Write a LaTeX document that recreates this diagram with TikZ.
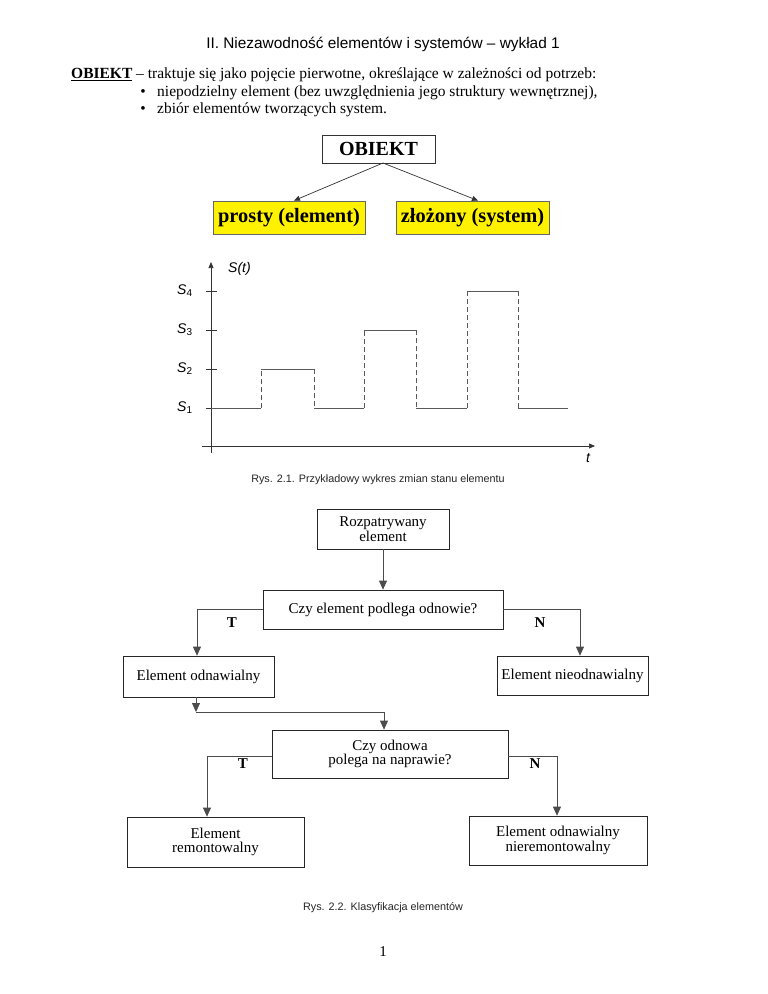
\documentclass[tikz,border=0pt]{standalone}
\usepackage{fontspec}
\setmainfont{Liberation Serif}
\setsansfont{Liberation Sans}
\usetikzlibrary{arrows.meta,calc}
\begin{document}
\begin{tikzpicture}[x=1pt,y=-1pt,
  body/.style={font=\fontsize{15.5}{17}\selectfont, inner sep=0pt},
  bigbox/.style={draw=black!80, line width=0.8pt, font=\bfseries\fontsize{20}{22}\selectfont, inner sep=0pt},
  ybox/.style={draw=black!60, line width=0.8pt, fill=yellow, font=\bfseries\fontsize{20.4}{22}\selectfont, inner sep=0pt},
  fbox/.style={draw=black!85, line width=0.7pt, align=center, font=\fontsize{15}{15}\selectfont, inner sep=0pt},
  flab/.style={font=\bfseries\fontsize{15}{15}\selectfont, inner sep=0pt},
  conn/.style={draw=black!70, line width=0.8pt},
  farrow/.style={conn, -{Triangle[length=9pt,width=8pt]}},
  sarrow/.style={draw=black!80, line width=0.7pt, -{Triangle[length=6pt,width=5pt]}},
  glab/.style={font=\sffamily\itshape\fontsize{14}{14}\selectfont, inner sep=0pt},
  sig/.style={draw=black!65, line width=0.9pt},
  sigd/.style={draw=black!65, line width=0.9pt, dash pattern=on 5pt off 3pt},
  captxt/.style={font=\sffamily\fontsize{10.8}{12}\selectfont, text=black!85, inner sep=0pt}
]
\useasboundingbox (0,0) rectangle (768,994);
\fill[white] (0,0) rectangle (768,994);

% header
\node[font=\sffamily\fontsize{15.4}{17}\selectfont, inner sep=0pt] (hdr) at (383,44) {II. Niezawodność elementów i systemów – wykład 1};

% definition text
\node[body, anchor=west] (def) at (71,75) {\underline{\textbf{OBIEKT}} – traktuje się jako pojęcie pierwotne, określające w zależności od potrzeb:};
\node[body] (bul1) at (143,93) {\textbullet};
\node[body, anchor=west] (it1) at (157,93) {niepodzielny element (bez uwzględnienia jego struktury wewnętrznej),};
\node[body] (bul2) at (143,110) {\textbullet};
\node[body, anchor=west] (it2) at (157,110) {zbiór elementów tworzących system.};

% OBIEKT tree
\node[bigbox, minimum width=113pt, minimum height=28pt] (obiekt) at (378.5,149) {OBIEKT};
\node[ybox, minimum width=152pt, minimum height=33pt] (prosty) at (289,217.5) {prosty (element)};
\node[ybox, minimum width=153pt, minimum height=33pt] (zlozony) at (472.5,217.5) {złożony (system)};
\coordinate (ob) at (383,163);
\draw[sarrow] (ob) -- ([xshift=5pt]prosty.north);
\draw[sarrow] (ob) -- ([xshift=5.5pt]zlozony.north);

% graph
\coordinate (yb) at (211,453);
\coordinate (yt) at (211,262);
\coordinate (xl) at (202,446);
\coordinate (xr) at (595,446);
\draw[sarrow] (yb) -- (yt);
\draw[sarrow] (xl) -- (xr);
\foreach \yy/\nm in {291/4,330/3,369/2,408/1}{
  \draw[draw=black!80, line width=0.7pt] (206,\yy) -- (217,\yy);
  \node[glab, anchor=west] (s\nm) at (177,\yy) {S\textsubscript{\upshape\fontsize{10}{10}\selectfont\nm}};
}
\node[glab, anchor=west] (st) at (228,269) {S(t)};
\node[glab] (tl) at (588,458) {t};
\draw[sig] (211,408) -- (261,408);
\draw[sigd] (261,408) -- (261,369);
\draw[sig] (261,369) -- (314,369);
\draw[sigd] (314,369) -- (314,408);
\draw[sig] (314,408) -- (364,408);
\draw[sigd] (364,408) -- (364,330);
\draw[sig] (364,330) -- (416,330);
\draw[sigd] (416,330) -- (416,408);
\draw[sig] (416,408) -- (467,408);
\draw[sigd] (467,408) -- (467,291);
\draw[sig] (467,291) -- (518,291);
\draw[sigd] (518,291) -- (518,408);
\draw[sig] (518,408) -- (568,408);
\node[captxt] (cap1) at (378,480) {Rys. 2.1. Przykładowy wykres zmian stanu elementu};

% flowchart
\node[fbox, minimum width=132pt, minimum height=40pt] (roz) at (383,529) {Rozpatrywany\\[-0.5pt]element};
\node[fbox, minimum width=240pt, minimum height=39pt] (q1) at (383,609.5) {Czy element podlega odnowie?};
\node[fbox, minimum width=151pt, minimum height=41pt] (odn) at (198.5,676.5) {Element odnawialny};
\node[fbox, minimum width=151pt, minimum height=39pt] (nodn) at (572.5,675.5) {Element nieodnawialny};
\node[fbox, minimum width=236pt, minimum height=48pt] (q2) at (390,754) {Czy odnowa\\[-0.5pt]polega na naprawie?};
\node[fbox, minimum width=177pt, minimum height=50pt] (rem) at (215.5,842) {Element\\[-0.5pt]remontowalny};
\node[fbox, minimum width=178pt, minimum height=49pt] (nrem) at (558,840.5) {Element odnawialny\\[-0.5pt]nieremontowalny};

\draw[farrow] (roz.south) -- (q1.north);
\draw[farrow] (q1.west) -| ([xshift=-1.5pt]odn.north);
\draw[farrow] (q1.east) -| ([xshift=7.5pt]nodn.north);
\node[flab] (t1) at (232,623) {T};
\node[flab] (n1) at (540,623) {N};

\coordinate (jn) at (196,712);
\draw[farrow] ([xshift=-2.5pt]odn.south) -- (jn);
\draw[farrow] (jn) -| ([xshift=-6pt]q2.north);

\draw[farrow] ([yshift=-2pt]q2.west) -| ([xshift=-8.5pt]rem.north);
\draw[farrow] ([yshift=-2pt]q2.east) -| ([xshift=-1pt]nrem.north);
\node[flab] (t2) at (243,764) {T};
\node[flab] (n2) at (535,764) {N};

\node[captxt] (cap2) at (383,908) {Rys. 2.2. Klasyfikacja elementów};
\node[font=\fontsize{15}{15}\selectfont, inner sep=0pt] (pg) at (383,952) {1};
\end{tikzpicture}
\end{document}
